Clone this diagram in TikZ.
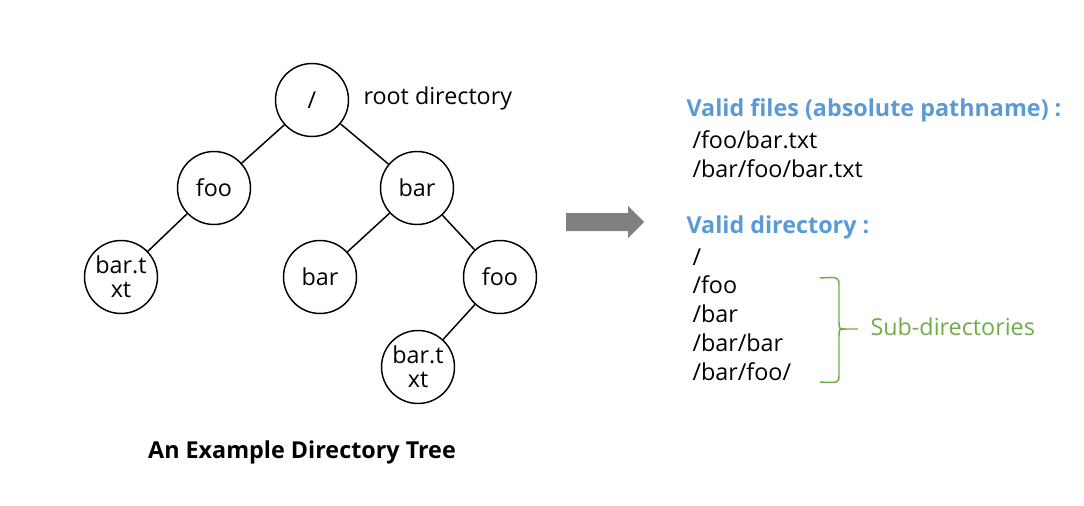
\documentclass[tikz,border=0pt]{standalone}
\usepackage{fontspec}
\setmainfont{Open Sans}
\definecolor{hdrblue}{RGB}{91,155,213}
\definecolor{subgreen}{RGB}{112,173,71}
\definecolor{arrowgray}{RGB}{128,128,128}
\tikzset{every picture/.style={line width=0.75pt}}
\tikzset{
  dirnode/.style={draw, circle, line width=1.1pt, minimum size=54.75pt, inner sep=0pt, align=center, font=\fontsize{17.5}{18}\selectfont},
  treeedge/.style={line width=1.1pt},
  listtext/.style={anchor=west, inner sep=0.75pt, font=\fontsize{17.5}{20}\selectfont},
  hdrtext/.style={anchor=west, inner sep=0.75pt, font=\fontsize{17.5}{20}\selectfont\bfseries, text=hdrblue}
}
\begin{document}
\begin{tikzpicture}[x=0.75pt,y=0.75pt,yscale=-1,xscale=1]
    \useasboundingbox (0,0) rectangle (1084,506);

    %Shape: Circle tree nodes
    \node [dirnode] (root)   at (312, 100) {/};
    \node [dirnode] (foo)    at (214, 188) {foo};
    \node [dirnode] (bar)    at (417, 188) {bar};
    \node [dirnode] (footxt) at (121, 277) {bar.t\\xt};
    \node [dirnode] (barbar) at (320, 277) {bar};
    \node [dirnode] (barfoo) at (500, 277) {foo};
    \node [dirnode] (bartxt) at (418, 367) {bar.t\\xt};

    %Shape: Lines tree edges
    \draw [treeedge] (root) -- (foo);
    \draw [treeedge] (root) -- (bar);
    \draw [treeedge] (foo) -- (footxt);
    \draw [treeedge] (bar) -- (barbar);
    \draw [treeedge] (bar) -- (barfoo);
    \draw [treeedge] (barfoo) -- (bartxt);

    %Text: root label and caption
    \draw (362, 98) node [listtext] (rootlbl) {root directory};
    \draw (302, 452) node [inner sep=0.75pt, font=\fontsize{17.5}{20}\selectfont\bfseries] (caption) {An Example Directory Tree};

    %Shape: Right Arrow
    \fill [arrowgray] (566,213) -- (628,213) -- (628,206) -- (644,222) -- (628,238) -- (628,231) -- (566,231) -- cycle;

    %Text: valid files
    \draw (685, 110) node [hdrtext] (fileshdr) {Valid files (absolute pathname) :};
    \draw (691, 140) node [listtext] (file1) {/foo/bar.txt};
    \draw (691, 169) node [listtext] (file2) {/bar/foo/bar.txt};

    %Text: valid directories
    \draw (685, 227) node [hdrtext] (dirhdr) {Valid directory :};
    \draw (691, 257) node [listtext] (dir1) {/};
    \draw (691, 285) node [listtext] (dir2) {/foo};
    \draw (691, 314) node [listtext] (dir3) {/bar};
    \draw (691, 343) node [listtext] (dir4) {/bar/bar};
    \draw (691, 372) node [listtext] (dir5) {/bar/foo/};

    %Shape: Right Brace
    \draw [subgreen, line width=1.1pt] (820,278) .. controls (839,277) .. (839,286) -- (839,322)
          .. controls (839,329) .. (846,329) -- (858,329);
    \draw [subgreen, line width=1.1pt] (820,382) .. controls (839,383) .. (839,374) -- (839,336)
          .. controls (839,329) .. (846,329);

    %Text: sub-directories
    \draw (869, 327) node [listtext, text=subgreen] (sublbl) {Sub-directories};
\end{tikzpicture}
\end{document}
